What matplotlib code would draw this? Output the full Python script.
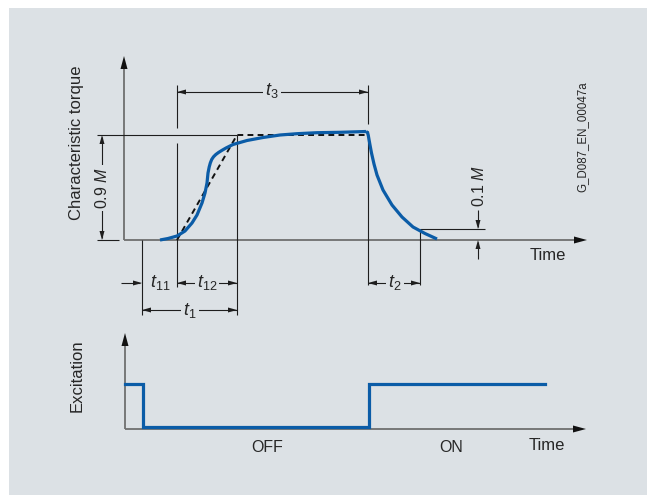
import matplotlib
matplotlib.use("Agg")
import matplotlib.pyplot as plt
from matplotlib.patches import Rectangle

plt.rcParams["font.family"] = ["Liberation Sans", "DejaVu Sans"]
plt.rcParams["mathtext.fontset"] = "custom"
plt.rcParams["mathtext.it"] = "Liberation Sans:italic"
plt.rcParams["mathtext.rm"] = "Liberation Sans"

# diagram drawn in reference pixel units (y grows downward)
# torque build-up after excitation switched off
rise_x = [160, 168, 177, 185, 192, 197, 202, 205, 207, 208, 209.2, 210.3, 211.7, 213.5, 215.8, 218.5, 222, 226, 233, 247, 263, 280, 297, 317, 340, 366]
rise_y = [240, 238.5, 236, 231, 223, 215, 203, 193, 183, 173, 167, 163, 159.5, 156.8, 154.5, 152.5, 150.3, 148, 144.5, 140.5, 137.5, 135, 133.7, 132.7, 132.3, 131.5]
# torque decay after excitation switched on again
decay_x = [366, 367.5, 368.3, 369, 370, 371.5, 374, 377, 383, 392, 402, 413, 425, 437]
decay_y = [131.5, 132.5, 135.5, 139.5, 145, 153, 164, 175, 190, 205, 217, 227, 233.5, 239]
# dashed linear approximation of the rise
approx_x = [177, 237, 368]
approx_y = [240, 135, 135]
# excitation: ON -> OFF -> ON
exc_x = [125, 143, 143, 369, 369, 545]
exc_y = [384, 384, 427, 427, 384, 384]

PANEL = "#dce1e5"
AXC = "#6f6f6f"
DIM = "#1e1e1e"
BLUE = "#0b5ca7"
TXT = "#262626"

fig = plt.figure(figsize=(6.47, 4.95), dpi=100)
ax = fig.add_axes([0, 0, 1, 1])
ax.set_xlim(0, 647)
ax.set_ylim(495, 0)
ax.axis("off")
ax.add_patch(Rectangle((9, 8), 640, 490, facecolor=PANEL, edgecolor="none", zorder=0))


def head(tip, d, length=9, width=5, color=DIM):
    tx, ty = tip
    dx, dy = d
    bx, by = tx - dx * length, ty - dy * length
    px, py = -dy * width / 2, dx * width / 2
    ax.fill([tx, bx + px, bx - px], [ty, by + py, by - py], color=color, lw=0, zorder=5)


def line(xs, ys, color=DIM, lw=0.8, **kw):
    ax.plot(xs, ys, color=color, lw=lw, solid_capstyle="butt", **kw)


def label(x, y, s, size=11.5, rot=0, gap=True):
    bb = dict(facecolor=PANEL, edgecolor="none", pad=1.5) if gap else None
    ax.text(x, y, s, fontsize=size, rotation=rot, ha="center", va="center",
            color=TXT, bbox=bb, zorder=6)


# ---- top diagram: axes
line([124, 124], [240, 66], color=AXC, lw=1.3)
head((124, 56), (0, -1), 13, 7, "#111111")
line([124, 576], [240, 240], color=AXC, lw=1.3)
head((587, 240), (1, 0), 13, 7, "#111111")

# reference lines
line([97, 237], [135, 135])
line([97, 119], [240, 240])
line([177, 177], [85, 128])
line([177, 177], [143, 287])
line([368, 368], [85, 124])
line([368, 368], [131, 285])
line([142, 142], [240, 315])
line([237, 237], [135, 315])
line([420, 420], [229, 285])
line([420, 485], [229, 229])

# 0.9 M dimension
line([102, 102], [137, 238])
head((102, 135), (0, -1))
head((102, 240), (0, 1))
label(102, 188, r"0.9 $\mathit{M}$", rot=90)

# t3
line([177, 368], [92, 92])
head((177, 92), (-1, 0))
head((368, 92), (1, 0))
label(272, 91, r"$\mathit{t}_3$", size=13)

# t11 / t12
line([121, 140], [283, 283])
head((142, 283), (1, 0))
line([177, 237], [283, 283])
head((177, 283), (-1, 0))
head((237, 283), (1, 0))
label(160, 283, r"$\mathit{t}_{11}$", size=13, gap=False)
label(207, 283, r"$\mathit{t}_{12}$", size=13)

# t1
line([142, 237], [310, 310])
head((142, 310), (-1, 0))
head((237, 310), (1, 0))
label(190, 310, r"$\mathit{t}_1$", size=13)

# t2
line([368, 420], [283, 283])
head((368, 283), (-1, 0))
head((420, 283), (1, 0))
label(395, 283, r"$\mathit{t}_2$", size=13)

# 0.1 M dimension
line([478, 478], [210, 227])
head((478, 229), (0, 1))
line([478, 478], [242, 259])
head((478, 240), (0, -1))
label(479, 186, r"0.1 $\mathit{M}$", rot=90, gap=False)

# curves
ax.plot(approx_x, approx_y, color="#111111", lw=1.4, ls=(0, (3, 2.2)), zorder=3)
ax.plot(rise_x, rise_y, color=BLUE, lw=2.3, solid_capstyle="butt", solid_joinstyle="round", zorder=4)
ax.plot(decay_x, decay_y, color=BLUE, lw=2.3, solid_capstyle="butt", solid_joinstyle="round", zorder=4)

label(77, 143, "Characteristic torque", size=12, rot=90, gap=False)
label(548, 256, "Time", size=12, gap=False)
label(582, 137, "G_D087_EN_00047a", size=8.3, rot=90, gap=False)

# ---- bottom diagram: excitation
line([125, 125], [429, 345], color=AXC, lw=1.3)
head((125, 333), (0, -1), 13, 7, "#111111")
line([125, 575], [429, 429], color=AXC, lw=1.3)
head((586, 429), (1, 0), 13, 7, "#111111")
ax.plot(exc_x, exc_y, color=BLUE, lw=2.3, solid_joinstyle="miter", zorder=4)

label(77, 376, "Excitation", size=12, rot=90, gap=False)
label(267, 448, "OFF", gap=False)
label(451, 448, "ON", gap=False)
label(547, 445, "Time", size=12, gap=False)

fig.savefig("out.png", dpi=100)
